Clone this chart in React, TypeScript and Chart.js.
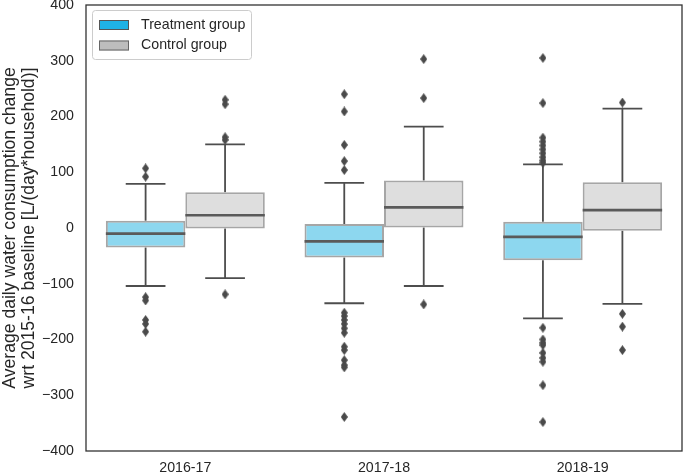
import { useEffect, useRef } from 'react';
import { Chart, registerables } from 'chart.js';

Chart.register(...registerables);

const categories = ['2016-17', '2017-18', '2018-19'];
const yTickValues = [-400, -300, -200, -100, 0, 100, 200, 300, 400];
const seriesNames = ['Treatment group', 'Control group'];
const yTitle = ['Average daily water consumption change', 'wrt 2015-16 baseline [L/(day*household)]'];

const treatmentQ1 = [-35, -53, -58];
const treatmentMedian = [-10, -24, -16];
const treatmentQ3 = [13, 7, 11];
const treatmentWhiskerLow = [-104, -135, -162];
const treatmentWhiskerHigh = [79, 81, 114];
const treatmentOutliers2016 = [107, 92, -124, -130, -165, -172, -186];
const treatmentOutliers2017 = [240, 209, 149, 120, 104, -152, -158, -165, -172, -180, -188, -213, -219, -237, -246, -250, -339];
const treatmentOutliers2018 = [305, 224, 162, 155, 148, 141, 134, 127, 121, 117, -179, -200, -206, -210, -224, -233, -240, -282, -348];

const controlQ1 = [-1, 1, -5];
const controlMedian = [23, 37, 32];
const controlQ3 = [64, 85, 82];
const controlWhiskerLow = [-90, -104, -136];
const controlWhiskerHigh = [150, 182, 214];
const controlOutliers2016 = [230, 222, 163, 158, -119];
const controlOutliers2017 = [303, 233, -137];
const controlOutliers2018 = [225, -154, -177, -219];

const treatmentOutliers = [treatmentOutliers2016, treatmentOutliers2017, treatmentOutliers2018];
const controlOutliers = [controlOutliers2016, controlOutliers2017, controlOutliers2018];

const FONT = "'Liberation Sans', Arial, Helvetica, sans-serif";
const TEXT = '#262626';

function makeDiamond(): HTMLCanvasElement {
  const c = document.createElement('canvas');
  c.width = 7;
  c.height = 10;
  const ctx = c.getContext('2d')!;
  ctx.fillStyle = '#4a4a4a';
  ctx.beginPath();
  ctx.moveTo(3.5, 0);
  ctx.lineTo(7, 5);
  ctx.lineTo(3.5, 10);
  ctx.lineTo(0, 5);
  ctx.closePath();
  ctx.fill();
  return c;
}

const boxPartsPlugin = {
  id: 'boxParts',
  beforeDatasetsDraw(chart: any) {
    const y = chart.scales.y;
    const ctx = chart.ctx;
    const groups = [
      { idx: 0, q1: treatmentQ1, q3: treatmentQ3, lo: treatmentWhiskerLow, hi: treatmentWhiskerHigh },
      { idx: 1, q1: controlQ1, q3: controlQ3, lo: controlWhiskerLow, hi: controlWhiskerHigh },
    ];
    ctx.save();
    ctx.strokeStyle = '#4d4d4d';
    ctx.lineWidth = 1.8;
    for (const g of groups) {
      const meta = chart.getDatasetMeta(g.idx);
      meta.data.forEach((el: any, j: number) => {
        const x = el.x;
        const half = el.width / 4;
        const yq1 = y.getPixelForValue(g.q1[j]);
        const yq3 = y.getPixelForValue(g.q3[j]);
        const ylo = y.getPixelForValue(g.lo[j]);
        const yhi = y.getPixelForValue(g.hi[j]);
        ctx.beginPath();
        ctx.moveTo(x, yq3);
        ctx.lineTo(x, yhi);
        ctx.moveTo(x - half, yhi);
        ctx.lineTo(x + half, yhi);
        ctx.moveTo(x, yq1);
        ctx.lineTo(x, ylo);
        ctx.moveTo(x - half, ylo);
        ctx.lineTo(x + half, ylo);
        ctx.stroke();
      });
    }
    ctx.restore();
  },
  afterDatasetsDraw(chart: any) {
    const y = chart.scales.y;
    const ctx = chart.ctx;
    const groups = [
      { idx: 0, med: treatmentMedian },
      { idx: 1, med: controlMedian },
    ];
    ctx.save();
    ctx.strokeStyle = '#5a5a5a';
    ctx.lineWidth = 2.6;
    for (const g of groups) {
      const meta = chart.getDatasetMeta(g.idx);
      meta.data.forEach((el: any, j: number) => {
        const ym = y.getPixelForValue(g.med[j]);
        ctx.beginPath();
        ctx.moveTo(el.x - el.width / 2, ym);
        ctx.lineTo(el.x + el.width / 2, ym);
        ctx.stroke();
      });
    }
    const a = chart.chartArea;
    ctx.strokeStyle = '#333333';
    ctx.lineWidth = 1.3;
    ctx.strokeRect(a.left, a.top, a.right - a.left, a.bottom - a.top);
    ctx.restore();
  },
  afterDraw(chart: any) {
    const ctx = chart.ctx;
    const a = chart.chartArea;
    const lx = a.left + 6;
    const ly = a.top + 5;
    const w = 159;
    const h = 49;
    ctx.save();
    ctx.fillStyle = 'rgba(255,255,255,0.85)';
    ctx.strokeStyle = '#cccccc';
    ctx.lineWidth = 1;
    ctx.beginPath();
    (ctx as any).roundRect(lx + 0.5, ly + 0.5, w, h, 3);
    ctx.fill();
    ctx.stroke();
    const patchFill = ['#1fb2e5', '#bdbdbd'];
    const patchEdge = ['#555555', '#666666'];
    ctx.font = `14.2px ${FONT}`;
    ctx.textBaseline = 'middle';
    ctx.textAlign = 'left';
    seriesNames.forEach((name, i) => {
      const py = ly + 10 + i * 20.5;
      ctx.fillStyle = patchFill[i];
      ctx.fillRect(lx + 7, py, 30, 10);
      ctx.strokeStyle = patchEdge[i];
      ctx.lineWidth = 1;
      ctx.strokeRect(lx + 7.5, py + 0.5, 29, 9);
      ctx.fillStyle = TEXT;
      ctx.fillText(name, lx + 49, py + 5);
    });
    ctx.restore();
  },
};

export default function App() {
  const ref = useRef<HTMLCanvasElement | null>(null);

  useEffect(() => {
    document.body.style.margin = '0';
    if (!ref.current) return;
    const diamond = makeDiamond();
    const outlierDatasets: any[] = [];
    const offsets = [-0.2, 0.2];
    [treatmentOutliers, controlOutliers].forEach((groupOutliers, gi) => {
      outlierDatasets.push({
        type: 'scatter',
        label: seriesNames[gi] + ' outliers',
        parsing: false,
        data: groupOutliers.flatMap((vals, j) => vals.map((v) => ({ x: j + offsets[gi], y: v }))),
        pointStyle: diamond,
        pointRadius: 4,
        pointHoverRadius: 4,
        showLine: false,
      });
    });

    const chart = new Chart(ref.current, {
      type: 'bar',
      data: {
        labels: categories,
        datasets: [
          {
            label: seriesNames[0],
            data: treatmentQ1.map((q1, j) => [q1, treatmentQ3[j]]) as any,
            backgroundColor: '#8dd7ef',
            borderColor: '#a6a6a6',
            borderWidth: 2,
            borderSkipped: false,
            categoryPercentage: 0.8,
            barPercentage: 1.0,
          },
          {
            label: seriesNames[1],
            data: controlQ1.map((q1, j) => [q1, controlQ3[j]]) as any,
            backgroundColor: '#dedede',
            borderColor: '#a6a6a6',
            borderWidth: 2,
            borderSkipped: false,
            categoryPercentage: 0.8,
            barPercentage: 1.0,
          },
          ...outlierDatasets,
        ],
      },
      options: {
        animation: false,
        responsive: false,
        layout: { autoPadding: false, padding: { top: 5, right: 3, left: 0, bottom: 0 } },
        plugins: {
          legend: { display: false },
          tooltip: { enabled: false },
        },
        scales: {
          x: {
            type: 'category',
            offset: true,
            grid: { display: false, drawTicks: false },
            border: { display: false },
            ticks: { font: { size: 14.2, family: FONT }, color: TEXT, padding: 9 },
            afterFit: (s: any) => {
              s.height = 23;
              s.paddingLeft = 0;
              s.paddingRight = 0;
              s.paddingTop = 0;
              s.paddingBottom = 0;
            },
          },
          y: {
            min: -400,
            max: 400,
            grid: { display: false, drawTicks: false },
            border: { display: false },
            afterBuildTicks: (s: any) => {
              s.ticks = yTickValues.map((v) => ({ value: v }));
            },
            ticks: {
              font: { size: 14.2, family: FONT },
              color: TEXT,
              padding: 12,
              callback: (v: any) => String(v).replace('-', '\u2212'),
            },
            title: {
              display: true,
              text: yTitle,
              font: { size: 17.6, family: FONT, lineHeight: 1.1 },
              color: TEXT,
              padding: 0,
            },
            afterFit: (s: any) => {
              s.width = 86;
              s.paddingTop = 0;
              s.paddingBottom = 0;
              s.paddingLeft = 0;
              s.paddingRight = 0;
            },
          },
        },
      } as any,
      plugins: [boxPartsPlugin],
    });
    return () => chart.destroy();
  }, []);

  return <canvas ref={ref} width={685} height={474} style={{ display: 'block' }} />;
}
